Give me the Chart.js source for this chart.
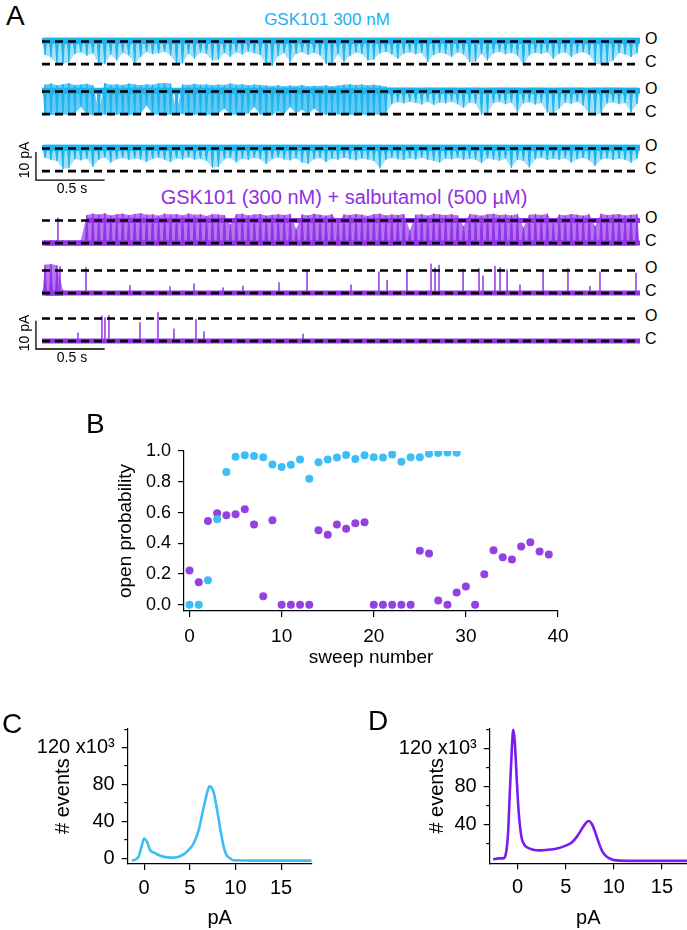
<!DOCTYPE html>
<html>
<head>
<meta charset="utf-8">
<script src="https://cdn.jsdelivr.net/npm/chart.js@4.4.1/dist/chart.umd.min.js"></script>
<style>
  body { margin: 0; background: #fff; }
  #page { position: relative; width: 687px; height: 930px; overflow: hidden; font-family: 'Liberation Sans', Arial, sans-serif; color: #000; }
  canvas { position: absolute; }
  .lbl { position: absolute; white-space: nowrap; line-height: 1; }
  .c { transform: translate(-50%, -50%); }
  .l { transform: translate(0, -50%); }
  .rot { transform: translate(-50%, -50%) rotate(-90deg); }
</style>
</head>
<body>
<div id="page">
  <canvas id="blue1" style="left:30px;top:33px" width="614" height="41"></canvas>
  <canvas id="blue2" style="left:30px;top:83px" width="614" height="41"></canvas>
  <canvas id="blue3" style="left:30px;top:140px" width="614" height="41"></canvas>
  <canvas id="purple1" style="left:30px;top:212px" width="614" height="41"></canvas>
  <canvas id="purple2" style="left:30px;top:262px" width="614" height="41"></canvas>
  <canvas id="purple3" style="left:30px;top:310px" width="614" height="41"></canvas>
  <canvas id="chartB" style="left:0;top:380px" width="687" height="290"></canvas>
  <canvas id="chartC" style="left:0;top:700px" width="340" height="230"></canvas>
  <canvas id="chartD" style="left:340px;top:700px" width="347" height="230"></canvas>

  <div class="lbl l" style="left:6px;top:16px;font-size:28px">A</div>
  <div class="lbl c" style="left:327px;top:19px;font-size:17px;color:#1cb0f0">GSK101 300 nM</div>
  <div class="lbl c" style="left:344px;top:197px;font-size:20px;color:#9030e0">GSK101 (300 nM) + salbutamol (500 µM)</div>

  <div class="lbl l" style="left:645px;top:39px;font-size:16px">O</div>
  <div class="lbl l" style="left:645px;top:62px;font-size:16px">C</div>
  <div class="lbl l" style="left:645px;top:89px;font-size:16px">O</div>
  <div class="lbl l" style="left:645px;top:112px;font-size:16px">C</div>
  <div class="lbl l" style="left:645px;top:146px;font-size:16px">O</div>
  <div class="lbl l" style="left:645px;top:169px;font-size:16px">C</div>
  <div class="lbl l" style="left:645px;top:218px;font-size:16px">O</div>
  <div class="lbl l" style="left:645px;top:241px;font-size:16px">C</div>
  <div class="lbl l" style="left:645px;top:268px;font-size:16px">O</div>
  <div class="lbl l" style="left:645px;top:291px;font-size:16px">C</div>
  <div class="lbl l" style="left:645px;top:316px;font-size:16px">O</div>
  <div class="lbl l" style="left:645px;top:339px;font-size:16px">C</div>

  <div class="lbl rot" style="left:24px;top:160px;font-size:14px">10 pA</div>
  <div class="lbl c" style="left:72px;top:188px;font-size:14px">0.5 s</div>
  <div class="lbl rot" style="left:24px;top:333px;font-size:14px">10 pA</div>
  <div class="lbl c" style="left:72px;top:357px;font-size:14px">0.5 s</div>

  <div class="lbl l" style="left:86px;top:424px;font-size:28px">B</div>
  <div class="lbl l" style="left:2px;top:724px;font-size:28px">C</div>
  <div class="lbl l" style="left:368px;top:721px;font-size:28px">D</div>
</div>

<script>
// ---------- panel A : single channel sweeps ----------
// current in pA (C = 0, O = openLevel), time in s, envelopes in 100 bins per sweep
const traceDur = 4.35;
const binCount = 100;
const openLevel = 8.0;
const closedLevel = 0;
const blueTop = 9.4;
const blueBase = 7.4;     // lower edge of the open-state noise band
const purpleBottom = -1.0;
const purpleBase = 0.6;   // upper edge of the closed-state noise band

// deepest excursion of the blue sweeps in each bin
const blue1Lo = [
  3.2, 2.4, 0.2, 0.0, 0.7, 3.6, 4.2, 3.0, 3.8, 0.1,
  0.0, 3.4, 1.3, 3.9, 3.1, 0.0, 2.5, 4.3, 3.5, 3.8,
  4.4, 3.0, 0.0, 0.2, 3.7, 2.0, 4.1, 3.6, 1.3, 1.5,
  3.9, 2.5, 4.2, 3.4, 4.5, 3.8, 3.2, -0.3, -0.6, 2.8,
  3.9, 0.7, 3.6, 4.2, 3.3, 4.0, 3.1, 0.0, 0.1, 3.5,
  0.7, 2.9, 4.1, 3.6, 1.3, 1.6, 3.8, 4.3, 3.4, 1.9,
  3.7, 4.2, 3.5, 3.9, 0.7, 3.2, 4.0, 3.6, 2.5, 4.1,
  3.4, 0.7, 0.9, 3.6, 1.3, 3.8, 4.3, 3.5, 3.9, 3.0,
  -0.5, 3.1, 4.0, 3.6, 4.2, 1.9, 3.7, 4.1, 2.5, 3.8,
  4.2, 3.3, 0.2, -0.2, 0.3, 1.3, 3.9, 3.4, 2.5, 3.8
];
const blue2Lo = [
  -0.4, -0.2, -0.5, -0.1, -0.3, 0.2, 2.5, -0.2, -0.4, -0.3,
  -0.1, -0.5, -0.2, 0.0, -0.4, -0.2, 0.1, 3.0, -0.3, -0.1,
  -0.4, -0.2, -0.3, 0.0, -0.5, -0.2, -0.1, -0.4, -0.2, 0.1,
  2.0, -0.3, -0.1, -0.4, 0.3, 2.5, -0.2, -0.6, -0.3, 1.0,
  0.0, 2.5, 0.2, 1.5, -0.1, 2.0, 0.3, -0.2, 0.5, -0.1,
  -0.3, -0.2, -0.5, -0.1, -0.4, 0.0, -0.3, 0.2, 3.5, 4.2,
  3.8, 4.4, 3.9, 3.4, 4.3, 3.2, 4.1, 3.8, 4.4, 3.5,
  2.2, 4.0, 3.7, -0.2, 0.1, 3.9, 4.3, 3.5, 4.1, 0.6,
  3.8, 4.2, 3.4, 3.9, 0.6, 0.3, 2.0, 4.1, 3.7, 4.3,
  3.0, -0.1, -0.3, 0.3, 3.8, 4.2, 3.5, 3.9, 0.6, 3.6
];
const blue2Hi = [
  10.4, 10.8, 10.2, 10.6, 10.9, 10.3, 10.5, 10.7, 10.2, 1.5,
  11.0, 10.4, 10.6, 10.3, 10.8, 10.5, 10.2, 10.6, 10.4, 10.9,
  11.0, 10.8, 1.0, 10.5, 10.3, 10.7, 10.4, 10.6, 10.2, 10.5,
  10.3, 10.9, 10.4, 10.6, 10.2, 10.5, 10.3, 10.1, 9.9, 10.2,
  9.8, 10.1, 9.9, 10.3, 9.8, 10.0, 9.9, 10.2, 9.8, 10.1,
  10.4, 10.6, 10.3, 10.5, 10.2, 10.4, 10.1, 9.8, 9.6, 9.5,
  9.7, 9.5, 9.6, 9.4, 9.7, 9.5, 9.6, 9.5, 9.7, 9.4,
  9.6, 9.5, 9.7, 9.5, 9.4, 9.6, 9.5, 9.7, 9.5, 9.6,
  9.4, 9.6, 9.5, 9.7, 9.5, 9.4, 9.6, 9.5, 9.7, 9.6,
  9.5, 9.4, 9.6, 9.5, 9.7, 9.5, 9.6, 9.4, 9.5, 9.6
];
const blue2FlickerEnd = 58;
const blue3Lo = [
  4.6, 4.0, 3.6, 0.8, 1.2, 4.2, 3.8, 4.4, 1.5, 4.0,
  4.8, 3.0, 4.2, 4.6, 3.9, 4.5, 4.1, 3.2, 4.4, 4.7,
  4.0, 3.2, 4.5, 4.1, 4.8, 3.9, 4.3, 3.6, 1.2, 1.5,
  4.2, 4.6, 3.0, 4.4, 4.0, 4.7, 4.2, 2.5, 4.3, 4.8,
  4.1, 3.8, 4.5, 3.0, 2.6, 4.2, 4.6, 3.2, 4.4, 4.0,
  4.7, 4.2, 3.8, 4.5, 4.1, 3.6, 1.0, 4.0, 4.6, 4.2,
  3.9, 4.5, 4.1, 4.7, 4.0, 3.7, 3.0, 4.4, 4.1, 4.6,
  3.9, 4.3, 4.0, 2.8, 4.5, 4.1, 3.7, 4.4, 1.2, 4.0,
  3.6, 1.3, 4.2, 4.6, 3.9, 4.3, 4.0, 4.5, 3.0, 4.2,
  4.6, 3.8, 1.8, 4.1, 4.5, 3.9, 4.3, 4.0, 3.0, 4.4
];

// highest excursion of the purple sweeps in each bin
const purple1Hi = [
  1.0, 1.0, 1.0, 1.0, 1.0, 1.0, 1.0, 9.9, 10.4, 10.1,
  10.5, 9.8, 10.2, 10.4, 9.9, 10.3, 10.6, 10.0, 10.2, 9.7,
  10.4, 10.1, 10.3, 9.8, 10.5, 10.0, 10.2, 9.6, 10.3, 10.1,
  9.9, 6.5, 10.2, 10.4, 9.8, 10.1, 10.3, 9.7, 10.0, 10.2,
  9.9, 10.3, 5.0, 10.1, 9.8, 10.4, 10.0, 9.7, 10.2, 7.0,
  10.1, 9.9, 10.3, 10.0, 9.6, 10.2, 10.4, 9.8, 10.1, 9.9,
  10.3, 4.5, 10.0, 10.2, 9.7, 10.4, 10.1, 9.9, 10.2, 9.8,
  6.0, 10.3, 10.0, 9.7, 10.2, 10.4, 9.9, 10.1, 9.8, 10.3,
  5.5, 10.0, 10.2, 9.9, 10.4, 7.0, 10.1, 9.8, 10.3, 10.0,
  9.7, 10.2, 6.0, 10.4, 9.9, 10.1, 10.3, 9.8, 10.0, 10.2
];
const purple1Onset = 7;
const purple2BurstHi = [10.0, 10.3, 9.8, 1.0];

// isolated openings: time (s) and peak current (pA)
const purple1SpikeT = [0.116];
const purple1SpikeH = [9.0];
const purple2SpikeT = [0.131, 0.320, 0.640, 0.931, 1.106, 1.317, 1.462, 1.724, 1.928, 2.248, 2.451, 2.510, 2.655, 2.830,
  2.859, 2.888, 3.063, 3.179, 3.208, 3.295, 3.332, 3.383, 3.477, 3.645, 3.826, 3.986, 4.059, 4.321];
const purple2SpikeH = [9.5, 9.2, 2.8, 2.4, 3.4, 2.0, 2.6, 3.8, 7.8, 3.0, 7.6, 4.6, 8.2, 10.4,
  9.0, 10.0, 8.6, 8.8, 6.2, 9.6, 9.2, 8.4, 3.0, 8.0, 8.8, 2.5, 7.6, 7.2];
const purple3SpikeT = [0.262, 0.436, 0.458, 0.487, 0.713, 0.844, 0.960, 1.120, 1.178, 1.899];
const purple3SpikeH = [3.0, 9.0, 8.4, 9.2, 6.6, 10.2, 4.4, 7.8, 3.4, 2.6];

// scale bar: 0.5 s by 10 pA
const scaleBar = [0.5, 10];
const scaleBarT = -0.044;

// ---------- panel B : open probability per sweep ----------
const blueOpenProb = [0.00, 0.00, 0.16, 0.556, 0.864, 0.963, 0.972, 0.968, 0.959, 0.913,
  0.896, 0.911, 0.944, 0.82, 0.927, 0.944, 0.957, 0.974, 0.948, 0.972,
  0.959, 0.957, 0.978, 0.93, 0.959, 0.959, 0.982, 0.987, 0.991, 0.989];
const purpleOpenProb = [0.223, 0.147, 0.545, 0.595, 0.582, 0.589, 0.621, 0.522, 0.056, 0.55,
  0, 0, 0, 0, 0.485, 0.455, 0.522, 0.494, 0.53, 0.537,
  0, 0, 0, 0, 0, 0.351, 0.333, 0.028, 0, 0.08,
  0.119, 0, 0.199, 0.355, 0.31, 0.294, 0.379, 0.407, 0.346, 0.327];
const sweepTicks = [0, 10, 20, 30, 40];
const probTicks = [0, 0.2, 0.4, 0.6, 0.8, 1.0];

// ---------- panels C, D : amplitude histograms (x10^3 events) ----------
const histCX = [-1.35, -0.9, -0.6, -0.3, 0, 0.3, 0.65, 1.2, 1.7, 2.1, 2.6, 3.2, 3.7, 4.1, 4.5, 4.85, 5.3, 5.6, 5.9,
  6.15, 6.4, 6.7, 6.95, 7.15, 7.35, 7.6, 7.8, 8.0, 8.25, 8.5, 8.75, 9.0, 9.4, 9.8, 12, 15, 18.35];
const histCY = [-2.5, -1, 2, 12, 21.5, 18, 9, 5.5, 3, 1.8, 1, 0.7, 1.5, 3, 5.5, 9, 14, 20, 28,
  38, 50, 63, 73, 78, 77, 72, 63, 52, 37, 23, 11, 4, 0, -2.2, -2.5, -2.5, -2.5];
const histDX = [-2.55, -2.0, -1.5, -1.25, -1.0, -0.8, -0.6, -0.45, -0.3, -0.1, 0.1, 0.4, 0.7, 1.0, 1.5, 2.3, 3.0,
  4.1, 5.0, 5.6, 6.2, 6.7, 7.1, 7.4, 7.7, 8.0, 8.4, 8.8, 9.3, 9.8, 10.3, 12, 15, 17.6];
const histDY = [3.6, 4.6, 4.6, 8, 30, 76, 120, 140, 128, 90, 55, 27, 19, 16, 14, 13, 13.5,
  15, 18, 21, 28, 36, 42, 44, 41, 34, 22, 12, 6, 3.5, 2.5, 2, 2, 2];
const pATicks = [0, 5, 10, 15];
const eventTicksC = [0, 40, 80, 120];
const eventTicksD = [40, 80, 120];
const eventMinorTicks = [20, 60, 100, 140];

// ---------- drawing ----------
Chart.defaults.font.family = "'Liberation Sans', Arial, sans-serif";
Chart.defaults.color = '#000';
Chart.defaults.animation = false;

const BLUE = '#1cb4f0';
const PURPLE = '#9234e6';
const binDur = traceDur / binCount;
const needleHalf = 0.01;

const binPts = (arr, start = 0) => arr.map((v, i) => ({ x: (start + i + 0.5) * binDur, y: v }));
const flat = (level, t0 = 0, t1 = traceDur) => [{ x: t0, y: level }, { x: t1, y: level }];

function dashed(level) {
  return { data: flat(level), borderColor: '#000', borderWidth: 2.6, borderDash: [8, 5], order: 0 };
}
function band(level, color, width, t0, t1) {
  return { data: flat(level, t0, t1), borderColor: color, borderWidth: width, order: 1 };
}
function spikes(ts, hs, color) {
  const d = [];
  ts.forEach((t, i) => d.push({ x: t, y: closedLevel }, { x: t, y: hs[i] }, { x: t, y: closedLevel }));
  return { data: d, borderColor: color, borderWidth: 1, order: 2 };
}
// one thin needle per bin, from the noise band out to the bin's extreme value
function needles(arr, start, base, color) {
  const d = [];
  arr.forEach((v, i) => {
    const t = (start + i + 0.5) * binDur;
    d.push({ x: t - needleHalf, y: base }, { x: t, y: v }, { x: t + needleHalf, y: base });
  });
  return { data: d, borderColor: color, borderWidth: 1, fill: { value: base }, backgroundColor: color, order: 2 };
}
// light haze over the whole excursion range
function haze(arr, start, fill, fillColor) {
  return { data: binPts(arr, start), borderWidth: 0, borderColor: 'rgba(0,0,0,0)', fill: fill, backgroundColor: fillColor, order: 3 };
}
function scaleBarSet(bottom) {
  return {
    data: [{ x: scaleBarT, y: bottom + scaleBar[1] }, { x: scaleBarT, y: bottom }, { x: scaleBarT + scaleBar[0], y: bottom }],
    borderColor: '#000', borderWidth: 1.3, order: 0
  };
}

function traceChart(id, datasets) {
  const pxPerSec = 598 / traceDur;
  return new Chart(document.getElementById(id), {
    type: 'line',
    data: { datasets: datasets },
    options: {
      responsive: false,
      events: [],
      layout: { padding: 0 },
      plugins: { legend: { display: false }, tooltip: { enabled: false } },
      elements: { point: { radius: 0 }, line: { tension: 0, borderCapStyle: 'butt' } },
      scales: {
        x: { type: 'linear', display: false, min: -12 / pxPerSec, max: 602 / pxPerSec },
        y: { type: 'linear', display: false, min: -3.5, max: 11 }
      }
    }
  });
}

const blueHaze = 'rgba(28,180,240,0.4)';
const blueDense = 'rgba(28,180,240,0.7)';
const purpleHaze = 'rgba(146,52,230,0.68)';

traceChart('blue1', [
  dashed(openLevel), dashed(closedLevel),
  band(openLevel + 0.3, BLUE, 6),
  needles(blue1Lo, 0, blueBase, BLUE),
  haze(blue1Lo, 0, { value: blueTop }, blueHaze)
]);
const nb = blue2FlickerEnd;
traceChart('blue2', [
  dashed(openLevel), dashed(closedLevel),
  band(openLevel + 0.3, BLUE, 6),
  needles(blue2Lo, 0, blueBase, BLUE),
  needles(blue2Hi.slice(0, nb), 0, blueBase, BLUE),
  haze(blue2Hi.slice(0, nb), 0, false, blueDense),
  haze(blue2Lo.slice(0, nb), 0, '-1', blueDense),
  haze(blue2Hi.slice(nb - 1), nb - 1, false, blueHaze),
  haze(blue2Lo.slice(nb - 1), nb - 1, '-1', blueHaze)
]);
traceChart('blue3', [
  dashed(openLevel), dashed(closedLevel), scaleBarSet(-3.2),
  band(openLevel + 0.3, BLUE, 6),
  needles(blue3Lo, 0, blueBase, BLUE),
  haze(blue3Lo, 0, { value: blueTop }, blueHaze)
]);
traceChart('purple1', [
  dashed(openLevel), dashed(closedLevel),
  band(closedLevel, PURPLE, 5),
  band(openLevel, PURPLE, 5, (purple1Onset + 0.5) * binDur, traceDur),
  spikes(purple1SpikeT, purple1SpikeH, PURPLE),
  needles(purple1Hi, 0, purpleBase, PURPLE),
  haze(purple1Hi, 0, { value: purpleBottom }, purpleHaze)
]);
traceChart('purple2', [
  dashed(openLevel), dashed(closedLevel),
  band(closedLevel, PURPLE, 5),
  spikes(purple2SpikeT, purple2SpikeH, PURPLE),
  needles(purple2BurstHi, 0, purpleBase, PURPLE),
  haze(purple2BurstHi, 0, { value: purpleBottom }, purpleHaze)
]);
traceChart('purple3', [
  dashed(openLevel), dashed(closedLevel), scaleBarSet(-2.8),
  band(closedLevel, PURPLE, 5),
  spikes(purple3SpikeT, purple3SpikeH, PURPLE)
]);

// shared axis styling (Igor-like: left/bottom lines, outside ticks)
function axisStyle(extra) {
  return Object.assign({
    grid: { drawOnChartArea: false, drawTicks: true, tickLength: 6, color: '#000', lineWidth: 1.2 },
    border: { display: true, color: '#000', width: 1.2 }
  }, extra);
}
const setTicks = arr => scale => { scale.ticks = arr.map(v => ({ value: v })); };

// panel B
new Chart(document.getElementById('chartB'), {
  type: 'scatter',
  data: {
    datasets: [
      { data: blueOpenProb.map((v, i) => ({ x: i, y: v })), backgroundColor: '#3dbff6', pointRadius: 4, borderWidth: 0 },
      { data: purpleOpenProb.map((v, i) => ({ x: i, y: v })), backgroundColor: '#9341e3', pointRadius: 4, borderWidth: 0 }
    ]
  },
  options: {
    responsive: false,
    events: [],
    layout: { padding: { left: 114, right: 129, top: 71, bottom: 0 } },
    plugins: { legend: { display: false }, tooltip: { enabled: false } },
    scales: {
      x: axisStyle({
        type: 'linear', min: -0.6, max: 40,
        afterBuildTicks: setTicks(sweepTicks),
        afterFit: s => { s.height = 59; },
        ticks: { padding: 8, font: { size: 19 }, maxRotation: 0 },
        title: { display: true, text: 'sweep number', font: { size: 19 }, padding: { top: 0, bottom: 1 } }
      }),
      y: axisStyle({
        type: 'linear', min: -0.04, max: 1.0,
        afterBuildTicks: setTicks(probTicks),
        afterFit: s => { s.width = 70; },
        ticks: { padding: 7, font: { size: 18 }, callback: v => v.toFixed(1) },
        title: { display: true, text: 'open probability', font: { size: 19 }, padding: 0 }
      })
    }
  }
});

// box: [layout left pad, y axis box width, title offset, plot bottom in canvas px]
function histChart(id, xs, ys, color, xRange, yRange, majorTicks, box, rightPad) {
  return new Chart(document.getElementById(id), {
    type: 'line',
    data: {
      datasets: [{
        data: xs.map((x, i) => ({ x: x, y: ys[i] })),
        borderColor: color, borderWidth: 2.6, pointRadius: 0, cubicInterpolationMode: 'monotone'
      }]
    },
    options: {
      responsive: false,
      events: [],
      layout: { padding: { left: box[0], right: rightPad, top: 28.3, bottom: 0 } },
      plugins: { legend: { display: false }, tooltip: { enabled: false } },
      scales: {
        x: axisStyle({
          type: 'linear', min: xRange[0], max: xRange[1],
          afterBuildTicks: setTicks(pATicks),
          afterFit: s => { s.height = 230 - box[3]; },
          ticks: { padding: 6, font: { size: 20 }, maxRotation: 0 },
          title: { display: true, text: 'pA', font: { size: 20 }, padding: { top: 0, bottom: 0 } }
        }),
        y: axisStyle({
          type: 'linear', min: yRange[0], max: yRange[1], weight: 1,
          afterBuildTicks: setTicks(majorTicks),
          afterFit: s => { s.width = box[1]; },
          ticks: { padding: 7, font: { size: 20 }, callback: v => (v === 120 ? '120 x10³' : String(v)) },
          title: { display: true, text: '# events', font: { size: 20 }, padding: { top: box[2], bottom: 0 } }
        }),
        yMinor: {
          type: 'linear', position: 'left', min: yRange[0], max: yRange[1], weight: 0,
          afterBuildTicks: setTicks(eventMinorTicks),
          afterFit: s => { s.width = 0; },
          ticks: { display: false },
          grid: { drawOnChartArea: false, drawTicks: true, tickLength: 3.5, color: '#000', lineWidth: 1.2 },
          border: { display: false }
        }
      }
    }
  });
}

histChart('chartC', histCX, histCY, '#3dbdf5', [-1.8, 18.35], [-6.2, 141], eventTicksC, [30, 97.7, 21, 164], 28.3);
histChart('chartD', histDX, histDY, '#7a1cf0', [-2.9, 17.6], [-0.6, 141.5], eventTicksD, [52, 97.7, 33, 163.3], 0);
</script>
</body>
</html>
